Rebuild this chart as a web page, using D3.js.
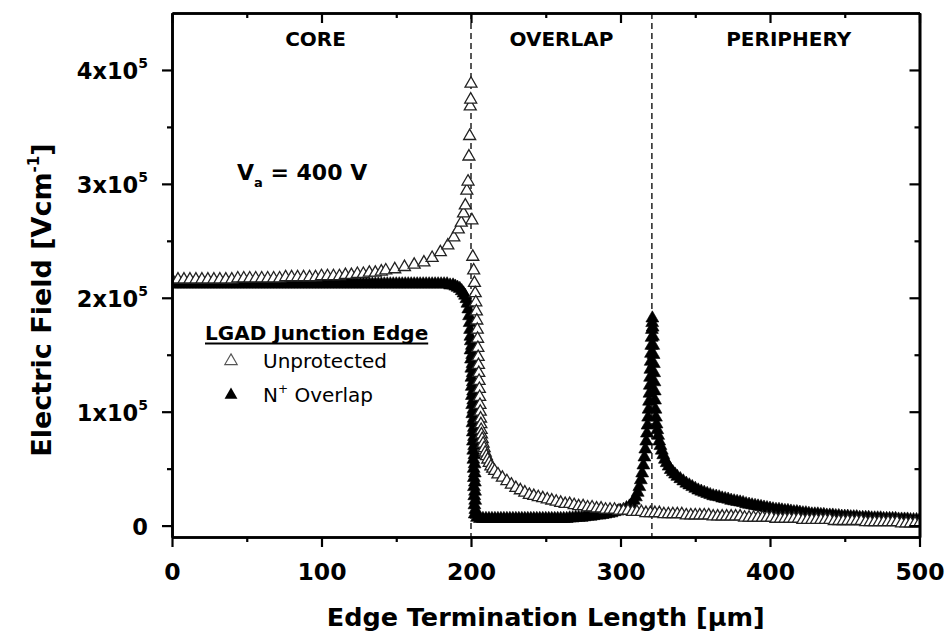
<!DOCTYPE html>
<html>
<head>
<meta charset="utf-8">
<script src="https://cdn.jsdelivr.net/npm/d3@7"></script>
<style>
  html, body { margin: 0; padding: 0; background: #fff; }
  svg { display: block; }
  text { font-family: "DejaVu Sans", sans-serif; fill: #000; }
</style>
</head>
<body>
<svg id="chart" width="945" height="632"></svg>
<script>
// ---- axis data -------------------------------------------------------------
const FIELD_UNIT = 1e5;                 // field values below are in 10^5 V/cm
const xTicks = [0, 100, 200, 300, 400, 500];
const xMinorTicks = [50, 150, 250, 350, 450];
const yTickMantissa = [0, 1, 2, 3, 4];
const yMinorMantissa = [0.5, 1.5, 2.5, 3.5];
const yTickExponent = 5;
const xDomain = [0, 500];
const yDomain = [-0.1, 4.5];

// ---- region boundaries (µm) and labels ------------------------------------
const regionNames = ["CORE", "OVERLAP", "PERIPHERY"];
const regionEdges = [0, 200, 321, 500];
const appliedVoltage = 400;

const legendTitle = "LGAD Junction Edge";
const seriesNames = ["Unprotected", "Overlap"];

// ---- Unprotected junction edge ---------------------------------------------
const unprotCoreX = [0,4,8,12,16,20,24,28,32,36, 40,44,48,52,56,60,64,68,72,76,
  80,84,88,92,96,100,104,108,112,116, 120,124,128,132,136,140,
  143,149,155.5,162,168.5,174,179.5,184.5,188.5,191.5,
  193.5,195,196.2,197.2,198,198.6,199.1,199.5,199.8,200];
const unprotCoreF = [2.16,2.16,2.16,2.16,2.16,2.16,2.16,2.16,2.16,2.16, 2.16,2.17,2.17,2.17,2.17,2.17,2.17,2.17,2.17,2.18,
  2.18,2.18,2.18,2.18,2.18,2.19,2.19,2.19,2.19,2.20, 2.20,2.21,2.21,2.22,2.22,2.23,
  2.24,2.25,2.27,2.29,2.31,2.35,2.40,2.46,2.53,2.60,
  2.66,2.74,2.81,2.94,3.02,3.24,3.42,3.68,3.74,3.88];
const unprotDropX = [200.6,201.2,201.8,202.3,202.8,203.2,203.6,203.9,204.2,204.4,
  204.6,204.8,205.0,205.2,205.4,205.6,205.8,206.0,206.2,206.4,
  206.6,206.8,207.0,207.5,208.1,208.8,209.5,210.3,211.2,212.2,
  213.3,214.5,215.8];
const unprotDropF = [2.68,2.36,2.24,2.13,2.04,1.96,1.88,1.80,1.72,1.64,
  1.56,1.48,1.41,1.34,1.27,1.20,1.13,1.06,1.00,0.94,
  0.89,0.84,0.80,0.76,0.72,0.68,0.64,0.61,0.58,0.55,
  0.52,0.50,0.48];
const unprotTailX = [218,221,224,227,230,233,236,239,242,245,
  248,251,254,257,260,263,266,269,272,275,
  278,281,284,287,290,293,296,299,302,305,
  308,311,314,317,320,323,326,329,332,335,
  338,341,344,347,350,353,356,359,362,365,
  368,371,374,377,380,383,386,389,392,395,
  398,401,404,407,410,413,416,419,422,425,
  428,431,434,437,440,443,446,449,452,455,
  458,461,464,467,470,473,476,479,482,485,
  488,491,494,497,500];
const unprotTailF = [0.45,0.42,0.39,0.36,0.33,0.31,0.29,0.27,0.26,0.25,
  0.24,0.23,0.22,0.21,0.20,0.19,0.19,0.18,0.17,0.17,
  0.16,0.16,0.15,0.15,0.14,0.14,0.14,0.13,0.13,0.13,
  0.12,0.12,0.12,0.11,0.11,0.11,0.11,0.10,0.10,0.10,
  0.10,0.10,0.09,0.09,0.09,0.09,0.09,0.09,0.08,0.08,
  0.08,0.08,0.08,0.08,0.08,0.07,0.07,0.07,0.07,0.07,
  0.07,0.07,0.06,0.06,0.06,0.06,0.06,0.06,0.05,0.05,
  0.05,0.05,0.05,0.05,0.05,0.04,0.04,0.04,0.04,0.04,
  0.04,0.04,0.03,0.03,0.03,0.03,0.03,0.03,0.03,0.03,
  0.02,0.02,0.02,0.02,0.02];

// ---- N+ overlap junction edge ----------------------------------------------
const overlapCoreX = [0,2,4,6,8,10,12,14,16,18, 20,22,24,26,28,30,32,34,36,38,
  40,42,44,46,48,50,52,54,56,58, 60,62,64,66,68,70,72,74,76,78,
  80,82,84,86,88,90,92,94,96,98, 100,102,104,106,108,110,112,114,116,118,
  120,122,124,126,128,130,132,134,136,138, 140,142,144,146,148,150,152,154,156,158,
  160,162,164,166,168,170,172,174,176,178, 180];
const overlapCoreF = [2.12,2.12,2.12,2.12,2.12,2.12,2.12,2.12,2.12,2.12, 2.12,2.12,2.12,2.12,2.12,2.12,2.12,2.12,2.12,2.12,
  2.12,2.12,2.12,2.12,2.12,2.12,2.12,2.12,2.12,2.12, 2.12,2.12,2.12,2.12,2.12,2.12,2.12,2.12,2.12,2.12,
  2.12,2.12,2.12,2.12,2.12,2.12,2.12,2.12,2.12,2.12, 2.12,2.12,2.12,2.12,2.12,2.12,2.12,2.12,2.12,2.12,
  2.12,2.12,2.12,2.12,2.12,2.12,2.12,2.12,2.12,2.12, 2.12,2.12,2.12,2.12,2.12,2.12,2.12,2.12,2.12,2.12,
  2.12,2.12,2.12,2.12,2.12,2.12,2.12,2.12,2.12,2.12, 2.12];
const overlapCornerX = [182,184,186,188,189.5,191,192.5,193.8,195,196,196.9,197.6,198.2,198.7,199.1,199.4,199.6];
const overlapCornerF = [2.12,2.12,2.11,2.11,2.10,2.09,2.08,2.06,2.04,2.02,1.99,1.95,1.90,1.84,1.78,1.72,1.66];
const overlapDropX = [199.9,200.6,199.7,200.8,200.0,201.0,200.2,201.1,200.3,201.2,
  200.5,201.4,200.6,201.5,200.8,201.6,200.9,201.8,201.0,201.9,
  201.2,202.0,201.3,202.1,201.5,202.3,201.6,202.4,201.8,202.5,
  201.9,202.6,202.0,202.7,202.2,202.8,202.3,202.9,202.5];
const overlapDropF = [1.62,1.58,1.54,1.50,1.46,1.42,1.38,1.34,1.30,1.26,
  1.22,1.18,1.14,1.10,1.06,1.02,0.98,0.94,0.90,0.86,
  0.82,0.78,0.74,0.70,0.66,0.62,0.58,0.54,0.50,0.46,
  0.42,0.38,0.34,0.30,0.26,0.22,0.18,0.14,0.10];
const overlapFloorX = [204,206,208,210,212,214,216,218,220,222,
  224,226,228,230,232,234,236,238,240,242,
  244,246,248,250,252,254,256,258,260,262,
  264,266,268,270,272,274,276,278,280,282,
  284,286,288,290,292,294,296,298,300];
const overlapFloorF = [0.07,0.06,0.06,0.06,0.06,0.06,0.06,0.06,0.06,0.06,
  0.06,0.06,0.06,0.06,0.06,0.06,0.06,0.06,0.06,0.06,
  0.06,0.06,0.06,0.06,0.06,0.06,0.06,0.06,0.06,0.06,
  0.06,0.065,0.065,0.07,0.07,0.07,0.075,0.08,0.08,0.085,
  0.09,0.09,0.095,0.10,0.105,0.11,0.12,0.125,0.13];
const overlapRiseX = [302,304,306,307.5,309,310.3,311.5,312.6,313.6,314.5,
  315.3,316.0,316.6,317.2,317.7,318.1,318.5,318.8,319.1,319.4,
  319.6,319.8,320.0,320.2,320.4,320.6,320.8,321.0,321.2,321.3];
const overlapRiseF = [0.14,0.155,0.17,0.19,0.22,0.25,0.29,0.34,0.40,0.46,
  0.53,0.60,0.67,0.74,0.81,0.88,0.95,1.02,1.09,1.16,
  1.23,1.30,1.37,1.44,1.51,1.58,1.65,1.72,1.78,1.82];
const overlapFallX = [321.5,321.7,321.9,322.1,322.3,322.5,322.7,322.9,323.1,323.4,
  323.7,324.1,324.6,325.2,325.9,326.7,327.6,328.6,329.7,330.9,
  332.2,333.6,335,336.5,338,340,342,344,346,348,
  350,352,354,356,358,360,362,364,366,368,
  370,372,374];
const overlapFallF = [1.74,1.66,1.58,1.50,1.42,1.34,1.26,1.18,1.10,1.02,
  0.95,0.89,0.84,0.79,0.74,0.70,0.66,0.62,0.58,0.55,
  0.52,0.49,0.47,0.45,0.43,0.41,0.39,0.37,0.355,0.34,
  0.325,0.31,0.30,0.29,0.28,0.27,0.26,0.255,0.25,0.24,
  0.235,0.23,0.22];
const overlapTailX = [376,378,380,382,384,386,388,390,392,394,
  396,398,400,402,404,406,408,410,412,414,
  416,418,420,422,424,426,428,430,432,434,
  436,438,440,442,444,446,448,450,452,454,
  456,458,460,462,464,466,468,470,472,474,
  476,478,480,482,484,486,488,490,492,494,
  496,498,500];
const overlapTailF = [0.215,0.21,0.205,0.20,0.19,0.185,0.18,0.175,0.17,0.165,
  0.16,0.155,0.15,0.145,0.14,0.14,0.135,0.13,0.13,0.125,
  0.12,0.12,0.115,0.11,0.11,0.105,0.10,0.10,0.10,0.095,
  0.095,0.09,0.09,0.09,0.085,0.085,0.08,0.08,0.08,0.075,
  0.075,0.075,0.07,0.07,0.07,0.07,0.065,0.065,0.065,0.065,
  0.06,0.06,0.06,0.06,0.06,0.055,0.055,0.055,0.055,0.05,
  0.05,0.05,0.05];

// ---- build point lists ------------------------------------------------------
function pair(xs, fs) { return xs.map((v, i) => ({ x: v, f: fs[i] * FIELD_UNIT })); }
const unprotected = [].concat(
  pair(unprotCoreX, unprotCoreF), pair(unprotDropX, unprotDropF), pair(unprotTailX, unprotTailF));
const overlap = [].concat(
  pair(overlapCoreX, overlapCoreF), pair(overlapCornerX, overlapCornerF),
  pair(overlapDropX, overlapDropF), pair(overlapFloorX, overlapFloorF),
  pair(overlapRiseX, overlapRiseF), pair(overlapFallX, overlapFallF),
  pair(overlapTailX, overlapTailF));

// ---- scales -----------------------------------------------------------------
const svg = d3.select("#chart");
const frame = { left: 172, right: 919.5, top: 13, bottom: 537 };
const x = d3.scaleLinear().domain(xDomain).range([frame.left, frame.right]);
const y = d3.scaleLinear().domain(yDomain.map(v => v * FIELD_UNIT)).range([frame.bottom, frame.top]);
const yTicks = yTickMantissa.map(m => m * Math.pow(10, yTickExponent));
const yMinorTicks = yMinorMantissa.map(m => m * Math.pow(10, yTickExponent));

svg.append("defs").append("clipPath").attr("id", "plot-clip")
  .append("rect")
  .attr("x", frame.left).attr("y", frame.top)
  .attr("width", frame.right - frame.left).attr("height", frame.bottom - frame.top);

// ---- region divider lines ---------------------------------------------------
svg.append("g").selectAll("line")
  .data(regionEdges.slice(1, -1))
  .join("line")
  .attr("x1", d => x(d)).attr("x2", d => x(d))
  .attr("y1", frame.top).attr("y2", frame.bottom)
  .attr("stroke", "#111").attr("stroke-width", 1.4)
  .attr("stroke-dasharray", "6,4");

// ---- markers ----------------------------------------------------------------
const filledTriangle = d3.symbol().type(d3.symbolTriangle).size(72);
const openTriangle = d3.symbol().type(d3.symbolTriangle).size(62);
const marks = svg.append("g").attr("clip-path", "url(#plot-clip)");

marks.append("g").selectAll("path")
  .data(overlap)
  .join("path")
  .attr("d", filledTriangle)
  .attr("transform", d => `translate(${x(d.x)},${y(d.f)})`)
  .attr("fill", "#000")
  .attr("stroke", "#000").attr("stroke-width", 0.6);

marks.append("g").selectAll("path")
  .data(unprotected)
  .join("path")
  .attr("d", openTriangle)
  .attr("transform", d => `translate(${x(d.x)},${y(d.f)})`)
  .attr("fill", "#fff")
  .attr("stroke", "#222")
  .attr("stroke-width", 1.3);

// ---- axes -------------------------------------------------------------------
function styleAxis(g) {
  g.select(".domain").attr("stroke", "#000").attr("stroke-width", 2.6);
  g.selectAll(".tick line").attr("stroke", "#000").attr("stroke-width", 2.2);
}

// bottom
const gBottom = svg.append("g").attr("transform", `translate(0,${frame.bottom})`)
  .call(d3.axisBottom(x).tickValues(xTicks).tickSize(10).tickSizeOuter(0).tickFormat(d3.format("d")))
  .call(styleAxis);
gBottom.selectAll(".tick text")
  .attr("y", 43).attr("dy", null)
  .attr("font-size", 23.5).attr("font-weight", "bold").attr("fill", "#000");
svg.append("g").attr("transform", `translate(0,${frame.bottom})`)
  .call(d3.axisBottom(x).tickValues(xMinorTicks).tickSize(5).tickSizeOuter(0).tickFormat(""))
  .call(styleAxis);

// top
svg.append("g").attr("transform", `translate(0,${frame.top})`)
  .call(d3.axisTop(x).tickValues(xTicks).tickSize(-10).tickSizeOuter(0).tickFormat(""))
  .call(styleAxis);
svg.append("g").attr("transform", `translate(0,${frame.top})`)
  .call(d3.axisTop(x).tickValues(xMinorTicks).tickSize(-5).tickSizeOuter(0).tickFormat(""))
  .call(styleAxis);

// left
const gLeft = svg.append("g").attr("transform", `translate(${frame.left},0)`)
  .call(d3.axisLeft(y).tickValues(yTicks).tickSize(10).tickSizeOuter(0))
  .call(styleAxis);
gLeft.selectAll(".tick text").each(function (d, i) {
  const t = d3.select(this)
    .text(null)
    .attr("x", -24).attr("y", 9).attr("dy", null)
    .attr("font-size", 22.5).attr("font-weight", "bold").attr("fill", "#000");
  const m = yTickMantissa[i];
  if (m === 0) { t.text("0"); return; }
  t.append("tspan").text(`${m}x10`);
  t.append("tspan").attr("dy", -11).attr("font-size", 14).text(yTickExponent);
});
svg.append("g").attr("transform", `translate(${frame.left},0)`)
  .call(d3.axisLeft(y).tickValues(yMinorTicks).tickSize(5).tickSizeOuter(0).tickFormat(""))
  .call(styleAxis);

// right
svg.append("g").attr("transform", `translate(${frame.right},0)`)
  .call(d3.axisRight(y).tickValues(yTicks).tickSize(-10).tickSizeOuter(0).tickFormat(""))
  .call(styleAxis);
svg.append("g").attr("transform", `translate(${frame.right},0)`)
  .call(d3.axisRight(y).tickValues(yMinorTicks).tickSize(-5).tickSizeOuter(0).tickFormat(""))
  .call(styleAxis);

// ---- axis titles ------------------------------------------------------------
svg.append("text")
  .attr("x", (frame.left + frame.right) / 2).attr("y", 626)
  .attr("text-anchor", "middle")
  .attr("font-size", 25.5).attr("font-weight", "bold")
  .text("Edge Termination Length [\u03bcm]");

const yTitle = svg.append("text")
  .attr("transform", `translate(51,300) rotate(-90)`)
  .attr("text-anchor", "middle")
  .attr("font-size", 27).attr("font-weight", "bold");
yTitle.append("tspan").text("Electric Field [Vcm");
yTitle.append("tspan").attr("font-size", 15).attr("dy", -12).text("-1");
yTitle.append("tspan").attr("dy", 12).text("]");

// ---- region labels (centred over each region, CORE nudged left) -------------
const regionLabelShift = [-6, 0, 3];
svg.append("g").selectAll("text")
  .data(regionNames)
  .join("text")
  .attr("x", (d, i) => x((regionEdges[i] + regionEdges[i + 1]) / 2) + regionLabelShift[i])
  .attr("y", 46)
  .attr("text-anchor", "middle")
  .attr("font-size", 20).attr("font-weight", "bold")
  .text(d => d);

// ---- applied-voltage note ---------------------------------------------------
const va = svg.append("text")
  .attr("x", 237).attr("y", 180)
  .attr("font-size", 22).attr("font-weight", "bold");
va.append("tspan").text("V");
va.append("tspan").attr("font-size", 13).attr("dy", 7).text("a");
va.append("tspan").attr("dy", -7).text(` = ${appliedVoltage} V`);

// ---- legend -----------------------------------------------------------------
const legend = svg.append("g");
const lt = legend.append("text")
  .attr("x", 205).attr("y", 340)
  .attr("font-size", 20).attr("font-weight", "bold")
  .text(legendTitle);
const ltWidth = lt.node().getComputedTextLength();
legend.append("line")
  .attr("x1", 205).attr("x2", 205 + ltWidth)
  .attr("y1", 343.5).attr("y2", 343.5)
  .attr("stroke", "#000").attr("stroke-width", 1.8);

const legendFilled = d3.symbol().type(d3.symbolTriangle).size(72);
const legendOpen = d3.symbol().type(d3.symbolTriangle).size(66);
legend.append("path")
  .attr("d", legendOpen)
  .attr("transform", "translate(231,361)")
  .attr("fill", "#fff").attr("stroke", "#555").attr("stroke-width", 1.2);
legend.append("text")
  .attr("x", 263).attr("y", 368)
  .attr("font-size", 20)
  .text(seriesNames[0]);

legend.append("path")
  .attr("d", legendFilled)
  .attr("transform", "translate(231,395)")
  .attr("fill", "#000");
const nl = legend.append("text")
  .attr("x", 263).attr("y", 402)
  .attr("font-size", 20);
nl.append("tspan").text("N");
nl.append("tspan").attr("font-size", 12).attr("dy", -9).text("+");
nl.append("tspan").attr("dy", 9).text(" " + seriesNames[1]);
</script>
</body>
</html>
